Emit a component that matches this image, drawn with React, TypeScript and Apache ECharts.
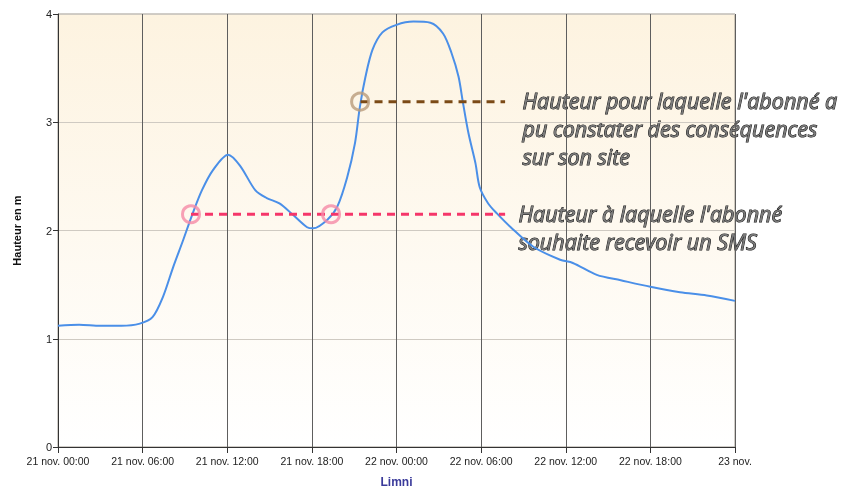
import React, { useEffect, useRef } from "react";
import * as echarts from "echarts";

// hours since 21 nov. 00:00
const hours = [0, 1.5, 3, 4.5, 5.8, 6.7, 7.45, 8.16, 8.87, 9.5, 10.2, 11, 12.06, 12.9, 14, 14.8, 15.7, 16.7, 17.66, 18.1, 19.1, 19.8, 20.5, 21.06, 21.4, 21.8, 22.3, 23, 24, 25.2, 26.4, 27.3, 27.9, 28.4, 28.7, 29.1, 29.6, 29.9, 30.5, 31.1, 32.1, 33.7, 35.6, 36.5, 38.2, 39.9, 42, 44.1, 46, 48];
const heights = [1.12, 1.13, 1.12, 1.12, 1.14, 1.20, 1.39, 1.66, 1.91, 2.14, 2.37, 2.56, 2.70, 2.60, 2.37, 2.30, 2.25, 2.14, 2.03, 2.02, 2.10, 2.22, 2.49, 2.81, 3.14, 3.42, 3.67, 3.83, 3.90, 3.93, 3.92, 3.82, 3.64, 3.42, 3.19, 2.90, 2.62, 2.40, 2.25, 2.16, 2.03, 1.85, 1.73, 1.70, 1.59, 1.54, 1.48, 1.43, 1.40, 1.35];

const xTickLabels = ["21 nov. 00:00", "21 nov. 06:00", "21 nov. 12:00", "21 nov. 18:00", "22 nov. 00:00", "22 nov. 06:00", "22 nov. 12:00", "22 nov. 18:00", "23 nov."];

// thresholds
const smsLevel = 2.15;
const smsLineHours = [9.43, 31.7];
const smsCircleHours = [9.43, 19.36];
const siteLevel = 3.19;
const siteLineHours = [21.45, 31.7];
const siteCircleHours = [21.42];

const siteText = "Hauteur pour laquelle l'abonné a\npu constater des conséquences\nsur son site";
const smsText = "Hauteur à laquelle l'abonné\nsouhaite recevoir un SMS";

export default function App() {
  const ref = useRef<HTMLDivElement>(null);
  useEffect(() => {
    if (!ref.current) return;
    const chart = echarts.init(ref.current, null, { renderer: "svg" });
    const textStyle = {
      fontFamily: "Open Sans",
      fontStyle: "italic",
      fontSize: 21.5,
      fill: "#7a7a7a",
      stroke: "#111111",
      lineWidth: 1,
      lineHeight: 28,
    };
    chart.setOption({
      animation: false,
      grid: {
        left: 58,
        right: 118,
        top: 14,
        bottom: 42,
        containLabel: false,
        outerBoundsMode: "none",
        show: true,
        borderColor: "#a09a90",
        borderWidth: 1,
        backgroundColor: new echarts.graphic.LinearGradient(0, 0, 0, 1, [
          { offset: 0, color: "#fdf3e0" },
          { offset: 1, color: "#ffffff" },
        ]),
      },
      xAxis: {
        type: "value",
        min: 0,
        max: 48,
        interval: 6,
        name: "Limni",
        nameLocation: "middle",
        nameGap: 29,
        nameTextStyle: { color: "#3a3a9a", fontWeight: "bold", fontSize: 12, fontFamily: "Liberation Sans" },
        axisLine: { lineStyle: { color: "#333", width: 1 } },
        axisTick: { show: true, length: 6, lineStyle: { color: "#333" } },
        axisLabel: {
          color: "#222",
          fontSize: 10.5,
          fontFamily: "Liberation Sans",
          margin: 8,
          formatter: (v: number) => xTickLabels[Math.round(v / 6)] ?? "",
        },
        splitLine: { show: true, lineStyle: { color: "#5e5e5e", width: 1 } },
      },
      yAxis: {
        type: "value",
        min: 0,
        max: 4,
        interval: 1,
        name: "Hauteur en m",
        nameLocation: "middle",
        nameGap: 36,
        nameTextStyle: { color: "#111", fontWeight: "bold", fontSize: 11, fontFamily: "Liberation Sans" },
        axisLine: { show: true, lineStyle: { color: "#333", width: 1 } },
        axisTick: { show: true, length: 5, lineStyle: { color: "#333" } },
        axisLabel: { color: "#222", fontSize: 11, fontFamily: "Liberation Sans", margin: 6 },
        splitLine: { show: true, lineStyle: { color: "#cfcac2", width: 1 } },
      },
      series: [
        {
          type: "line",
          data: hours.map((h, i) => [h, heights[i]]),
          smooth: 0.3,
          showSymbol: false,
          lineStyle: { color: "#4a8fe8", width: 2 },
          z: 3,
        },
        {
          type: "line",
          data: smsLineHours.map((h) => [h, smsLevel]),
          showSymbol: false,
          lineStyle: { color: "#f5366a", width: 3, type: [8, 6] },
          z: 4,
        },
        {
          type: "line",
          data: siteLineHours.map((h) => [h, siteLevel]),
          showSymbol: false,
          lineStyle: { color: "#7b4a16", width: 3, type: [8, 6] },
          z: 4,
        },
        {
          type: "scatter",
          data: smsCircleHours.map((h) => [h, smsLevel]),
          symbol: "circle",
          symbolSize: 17,
          itemStyle: { color: "transparent", borderColor: "#f58aa6", borderWidth: 3 },
          z: 5,
        },
        {
          type: "scatter",
          data: siteCircleHours.map((h) => [h, siteLevel]),
          symbol: "circle",
          symbolSize: 17,
          itemStyle: { color: "transparent", borderColor: "#b99b7b", borderWidth: 3 },
          z: 5,
        },
      ],
      graphic: [
        { type: "text", left: 522, top: 86, style: { ...textStyle, text: siteText } },
        { type: "text", left: 518, top: 199, style: { ...textStyle, text: smsText } },
      ],
    });
    return () => chart.dispose();
  }, []);
  return <div ref={ref} style={{ position: "fixed", left: 0, top: 0, width: 853, height: 489 }} />;
}
